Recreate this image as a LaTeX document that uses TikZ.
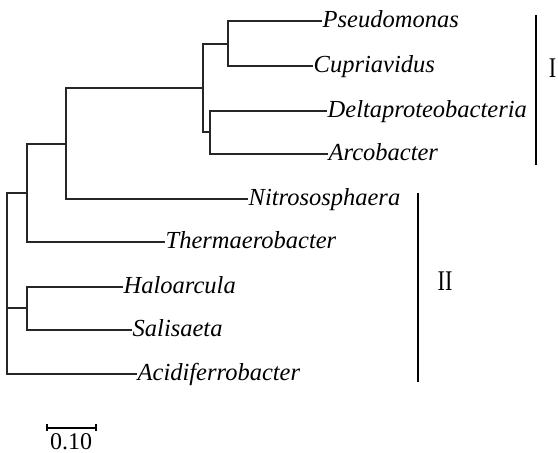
\documentclass[tikz,border=0pt]{standalone}
\usepackage{fontspec}
\setmainfont{Liberation Serif}
\newfontfamily\grpfont[FakeStretch=0.78]{Liberation Serif}
\begin{document}
\begin{tikzpicture}[x=1pt,y=-1pt,
  branch/.style={draw=black!85, line width=1.3pt},
  bar/.style={draw=black, line width=1.3pt},
  lab/.style={inner sep=0pt, anchor=base west, xshift=0.5pt, yshift=-6pt, font=\fontsize{24.5}{24.5}\selectfont\itshape},
  grp/.style={inner sep=0pt, font=\grpfont\fontsize{28.5}{28.5}\selectfont},
  scl/.style={inner sep=0pt, font=\fontsize{24}{24}\selectfont}]
\path[use as bounding box, fill=white] (0,0) rectangle (558,453);
% internal nodes
\coordinate (nA) at (228,44);
\coordinate (nB) at (210,132);
\coordinate (nC) at (203,88);
\coordinate (nD) at (66,144);
\coordinate (nE) at (27,193);
\coordinate (nF) at (27,308);
\coordinate (root) at (7,193);
\coordinate (rootb) at (7,374);
% leaf ends
\coordinate (lPse) at (322,21);
\coordinate (lCup) at (313,66);
\coordinate (lDel) at (327,111);
\coordinate (lArc) at (328,154);
\coordinate (lNit) at (248,199);
\coordinate (lThe) at (165,242);
\coordinate (lHal) at (123,287);
\coordinate (lSal) at (132,330);
\coordinate (lAci) at (137,374);
% labels
\node[lab] (tPse) at (lPse) {Pseudomonas};
\node[lab] (tCup) at (lCup) {Cupriavidus};
\node[lab] (tDel) at (lDel) {Deltaproteobacteria};
\node[lab] (tArc) at (lArc) {Arcobacter};
\node[lab] (tNit) at (lNit) {Nitrososphaera};
\node[lab] (tThe) at (lThe) {Thermaerobacter};
\node[lab] (tHal) at (lHal) {Haloarcula};
\node[lab] (tSal) at (lSal) {Salisaeta};
\node[lab] (tAci) at (lAci) {Acidiferrobacter};
% branches
\draw[branch] (lPse) -| (nA) |- (lCup);
\draw[branch] (lDel) -| (nB) |- (lArc);
\draw[branch] (nA) -| (nC) |- (nB);
\draw[branch] (nC) -| (nD) |- (lNit);
\draw[branch] (nD) -| (nE) |- (lThe);
\draw[branch] (lHal) -| (nF) |- (lSal);
\draw[branch] (nE) -- (root) -- (rootb) -- (lAci);
\draw[branch] (nF) -- (7,308);
% group bars
\coordinate (b1t) at (536,15);
\coordinate (b1b) at (536,165);
\coordinate (b2t) at (418,193);
\coordinate (b2b) at (418,382);
\draw[bar] (b1t) -- (b1b);
\draw[bar] (b2t) -- (b2b);
\node[grp, anchor=base] (gI) at (552.5,77) {I};
\node[grp, anchor=base] (gII) at (445,290) {II};
% scale bar
\coordinate (s1) at (47,428);
\coordinate (s2) at (96,428);
\draw[bar, line width=1.1pt] ([yshift=-3pt]s1) -- ([yshift=4pt]s1);
\draw[bar, line width=1.1pt] ([yshift=-3pt]s2) -- ([yshift=4pt]s2);
\draw[bar, line width=1.1pt] (s1) -- (s2);
\node[scl, anchor=base] (sl) at (71,449) {0.10};
\end{tikzpicture}
\end{document}
